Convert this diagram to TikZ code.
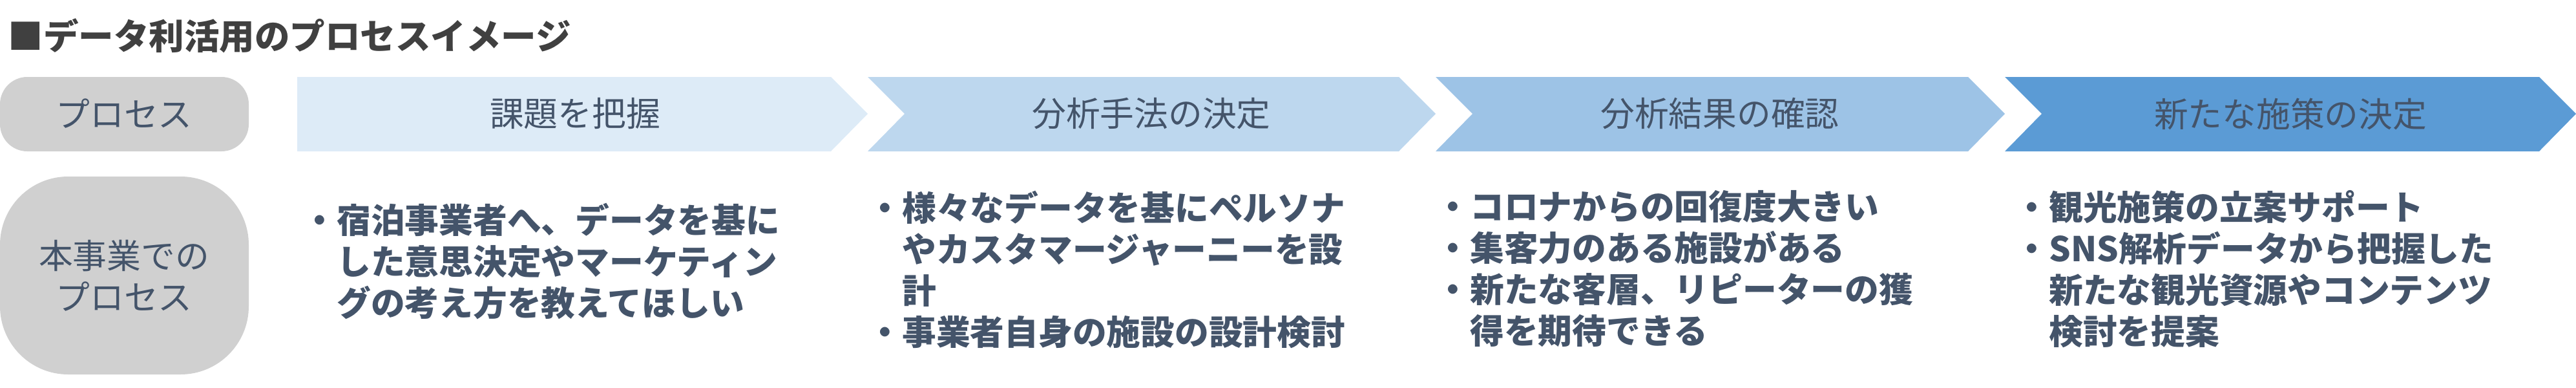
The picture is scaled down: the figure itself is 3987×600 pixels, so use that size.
\documentclass[tikz,border=0pt]{standalone}
\usepackage{fontspec}
\setmainfont{Noto Sans CJK JP}
\usetikzlibrary{positioning}
\definecolor{txt}{HTML}{44546A}
\definecolor{gbox}{HTML}{D0D0D0}
\definecolor{c1}{HTML}{DDEBF7}
\definecolor{c2}{HTML}{BDD7EE}
\definecolor{c3}{HTML}{9DC3E6}
\definecolor{c4}{HTML}{5B9BD5}
\newcommand{\bl}{・}
\newcommand{\ind}{\phantom{・}}
\begin{document}
\begin{tikzpicture}[x=0.01cm,y=-0.01cm,
  lbl/.style={text=txt,font=\fontsize{15pt}{18.2pt}\selectfont,align=center},
  items/.style={text=txt,font=\fontsize{15pt}{18.2pt}\selectfont\bfseries,align=left,anchor=north west,inner sep=0pt}]
\useasboundingbox (0,0) rectangle (3987,600);
\node[anchor=west,text=black!75,font=\fontsize{15.5pt}{18pt}\selectfont\bfseries,inner sep=0pt] (title) at (12,55) {■データ利活用のプロセスイメージ};
\fill[gbox,rounded corners=12] (0,119) rectangle (385,234);
\node[lbl] (p1) at (192,176) {プロセス};
\fill[gbox,rounded corners=30] (0,273) rectangle (385,579);
\node[lbl] (p2) at (192,426) {本事業での\\プロセス};
\fill[c1] (460,119) -- (1286,119) -- (1343,176) -- (1286,234) -- (460,234) -- cycle;
\fill[c2] (1343,119) -- (2165,119) -- (2222,176) -- (2165,234) -- (1343,234) -- (1400,176) -- cycle;
\fill[c3] (2222,119) -- (3046,119) -- (3103,176) -- (3046,234) -- (2222,234) -- (2279,176) -- cycle;
\fill[c4] (3103,119) -- (3930,119) -- (3987,176) -- (3930,234) -- (3103,234) -- (3160,176) -- cycle;
\node[lbl] (h1) at (890,176) {課題を把握};
\node[lbl] (h2) at (1782,176) {分析手法の決定};
\node[lbl] (h3) at (2662,176) {分析結果の確認};
\node[lbl] (h4) at (3545,176) {新たな施策の決定};
\node[items] (b1) at (468,313) {\bl 宿泊事業者へ、データを基に\\\ind した意思決定やマーケティン\\\ind グの考え方を教えてほしい};
\node[items] (b2) at (1343,294) {\bl 様々なデータを基にペルソナ\\\ind やカスタマージャーニーを設\\\ind 計\\\bl 事業者自身の施設の設計検討};
\node[items] (b3) at (2222,294) {\bl コロナからの回復度大きい\\\bl 集客力のある施設がある\\\bl 新たな客層、リピーターの獲\\\ind 得を期待できる};
\node[items] (b4) at (3118,294) {\bl 観光施策の立案サポート\\\bl SNS解析データから把握した\\\ind 新たな観光資源やコンテンツ\\\ind 検討を提案};
\end{tikzpicture}
\end{document}
